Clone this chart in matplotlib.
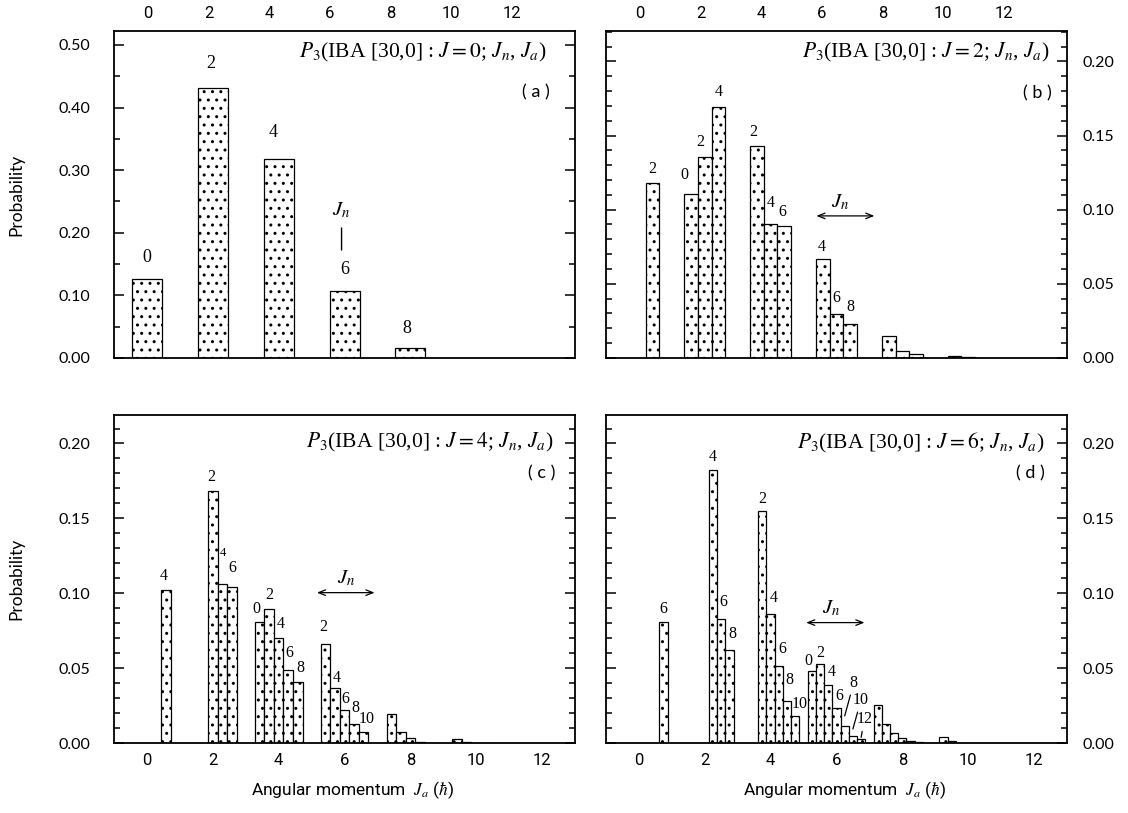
import matplotlib
matplotlib.use("Agg")
import matplotlib.pyplot as plt
from matplotlib.ticker import MultipleLocator, FormatStrFormatter
from matplotlib.transforms import offset_copy

plt.rcParams["mathtext.fontset"] = "stix"
plt.rcParams["hatch.linewidth"] = 1.0

SERIF = ["Liberation Serif", "DejaVu Serif"]
SANS = ["Lato", "DejaVu Sans"]
NARROW = ["Liberation Sans Narrow", "DejaVu Sans Condensed", "Roboto", "DejaVu Sans"]

# ---- data: P3(IBA [30,0] : J; Jn, Ja) ----
# J = 0
ja_a = [0, 2, 4, 6, 8]
jn_a = [0, 2, 4, 6, 8]
p_a = [0.126, 0.431, 0.318, 0.107, 0.016]

# J = 2
ja_b = [0, 2, 2, 2, 4, 4, 4, 6, 6, 6, 8, 8, 8, 10, 10, 10]
jn_b = [2, 0, 2, 4, 2, 4, 6, 4, 6, 8, 6, 8, 10, 8, 10, 12]
p_b = [0.118, 0.1106, 0.1355, 0.169, 0.143, 0.0906, 0.0888, 0.0667, 0.0299,
       0.0229, 0.0146, 0.0049, 0.0029, 0.0016, 0.0005, 0.0001]

# J = 4
ja_c = [0, 2, 2, 2, 4, 4, 4, 4, 4, 6, 6, 6, 6, 6, 8, 8, 8, 8, 8, 10, 10, 10, 10]
jn_c = [4, 2, 4, 6, 0, 2, 4, 6, 8, 2, 4, 6, 8, 10, 4, 6, 8, 10, 12, 6, 8, 10, 12]
p_c = [0.102, 0.168, 0.1064, 0.104, 0.0808, 0.0893, 0.0699, 0.0485, 0.0407,
       0.0659, 0.0369, 0.0218, 0.0127, 0.0073, 0.0196, 0.0076, 0.0031, 0.0009,
       0.0003, 0.0025, 0.0006, 0.0002, 0.0001]

# J = 6
ja_d = [0, 2, 2, 2, 4, 4, 4, 4, 4, 6, 6, 6, 6, 6, 6, 6,
        8, 8, 8, 8, 8, 8, 8, 10, 10, 10]
jn_d = [6, 4, 6, 8, 2, 4, 6, 8, 10, 0, 2, 4, 6, 8, 10, 12,
        2, 4, 6, 8, 10, 12, 14, 4, 6, 8]
p_d = [0.081, 0.1824, 0.0826, 0.0619, 0.155, 0.086, 0.0514, 0.028, 0.018,
       0.048, 0.0526, 0.0385, 0.0232, 0.0114, 0.0047, 0.0025,
       0.0252, 0.0129, 0.0069, 0.0036, 0.0013, 0.0004, 0.0001,
       0.004, 0.0013, 0.0003]

x_ticks = [0, 2, 4, 6, 8, 10, 12]

# Jn labels drawn above bars:
# (Ja, Jn, shift in bar widths, height above top in px, font size)
labels_a = [(0, 0, 0.0, 22, 13), (2, 2, -0.07, 25, 13), (4, 4, -0.2, 26, 13),
            (6, 6, 0.0, 21, 13), (8, 8, -0.13, 19, 13)]
labels_b = [(0, 2, 0.0, 14, 11.5), (2, 0, -0.5, 18.5, 11.5), (2, 2, -0.3, 15.5, 11.5),
            (2, 4, 0.05, 15.5, 11.5), (4, 2, -0.28, 14, 11.5), (4, 4, 0.0, 21, 11.5),
            (4, 6, -0.1, 14, 11.5), (6, 4, -0.1, 12.5, 11.5), (6, 6, 0.0, 16, 11.5),
            (6, 8, 0.0, 17.5, 11.5)]
labels_c = [(0, 4, -0.2, 14, 11.5), (2, 2, -0.15, 14, 11.5), (2, 4, 0.07, 31, 9),
            (2, 6, 0.0, 19.5, 11.5), (4, 0, -0.3, 12.5, 11.5), (4, 2, 0.0, 14, 11.5),
            (4, 4, 0.25, 14.5, 11.5), (4, 6, 0.15, 17.5, 11.5), (4, 8, 0.3, 14, 11.5),
            (6, 2, -0.2, 17, 11.5), (6, 4, 0.2, 10, 11.5), (6, 6, 0.05, 11, 11.5),
            (6, 8, 0.1, 16, 11.5), (6, 10, 0.28, 13, 11.5)]
labels_d = [(0, 6, 0.0, 13, 11.5), (2, 4, 0.0, 13, 11.5), (2, 6, 0.3, 17.5, 11.5),
            (2, 8, 0.3, 16, 11.5), (4, 2, 0.0, 12, 11.5), (4, 4, 0.4, 16.5, 11.5),
            (4, 6, 0.45, 17, 11.5), (4, 8, 0.3, 21, 11.5), (4, 10, 0.5, 12, 11.5),
            (6, 0, -0.4, 10, 11.5), (6, 2, 0.0, 11.5, 11.5),
            (6, 4, 0.4, 13, 11.5), (6, 6, 0.3, 12, 11.5)]
# labels with leader lines: (Ja, Jn, text dx px, text dy px, line start px above top)
leaders_d = [(6, 8, 9, 43, 10), (6, 10, 8, 36, 7), (6, 12, 3, 20, 2)]

PX = 0.72  # points per pixel at 100 dpi

fig = plt.figure(figsize=(11.28, 8.13), dpi=100)

panels = [
    dict(key="a", J=0, ja=ja_a, jn=jn_a, p=p_a, w=0.91, labels=labels_a,
         rect=[0.1011, 0.5597, 0.4087, 0.4022], top=0.5224, major=0.1, minor=0.05,
         side="left", row="top", title_xy=(0.939, 0.933), tag_xy=(0.946, 0.813)),
    dict(key="b", J=2, ja=ja_b, jn=jn_b, p=p_b, w=0.41, labels=labels_b,
         rect=[0.5372, 0.5597, 0.4087, 0.4022], top=0.2205, major=0.05, minor=0.01,
         side="right", row="top", title_xy=(0.962, 0.933), tag_xy=(0.967, 0.81),
         arrow=(5.39, 7.15, 0.0958, 6.1, 0.1054)),
    dict(key="c", J=4, ja=ja_c, jn=jn_c, p=p_c, w=0.29, labels=labels_c,
         rect=[0.1011, 0.0861, 0.4087, 0.4034], top=0.219, major=0.05, minor=0.01,
         side="left", row="bottom", title_xy=(0.953, 0.915), tag_xy=(0.957, 0.823),
         arrow=(5.16, 6.91, 0.1004, 6.05, 0.110)),
    dict(key="d", J=6, ja=ja_d, jn=jn_d, p=p_d, w=0.25, labels=labels_d,
         rect=[0.5372, 0.0861, 0.4087, 0.4034], top=0.219, major=0.05, minor=0.01,
         side="right", row="bottom", title_xy=(0.951, 0.915), tag_xy=(0.952, 0.823),
         arrow=(5.08, 6.85, 0.0804, 5.84, 0.0904)),
]


def bar_x(a, n, w):
    # bar with Jn = Ja sits on Ja, the others are stacked beside it
    return a + (n - a) / 2 * w


for pn in panels:
    ax = fig.add_axes(pn["rect"])
    w = pn["w"]
    xs = [bar_x(a, n, w) for a, n in zip(pn["ja"], pn["jn"])]
    ax.bar(xs, pn["p"], width=w, color="white", edgecolor="black",
           hatch="..", linewidth=0.9, zorder=2)

    ax.set_xlim(-1, 13)
    ax.set_ylim(0, pn["top"])
    for s in ax.spines.values():
        s.set_linewidth(1.3)

    ax.yaxis.set_major_locator(MultipleLocator(pn["major"]))
    ax.yaxis.set_minor_locator(MultipleLocator(pn["minor"]))
    ax.yaxis.set_major_formatter(FormatStrFormatter("%.2f"))
    right = pn["side"] == "right"
    ax.tick_params(axis="y", which="both", direction="in", left=True, right=True,
                   labelleft=not right, labelright=right, width=1.1)
    ax.tick_params(axis="y", which="major", length=7, labelsize=11.5,
                   pad=11.5 if right else 17)
    ax.tick_params(axis="y", which="minor", length=4.5)
    for t in ax.get_yticklabels():
        t.set_family(SANS)

    ax.set_xticks(x_ticks)
    if pn["row"] == "bottom":
        ax.tick_params(axis="x", which="both", length=0, labelsize=12, pad=7)
        for t in ax.get_xticklabels():
            t.set_family(NARROW)
        ax.set_xlabel(r"Angular momentum  $J_a$ ($\hbar$)", fontsize=12.5,
                      family=NARROW)
        ax.xaxis.set_label_coords(0.517, -0.112)
    else:
        ax.tick_params(axis="x", which="both", length=0, labelbottom=False)
        top = ax.twiny()
        top.set_xlim(-1.12, 14.09)
        top.set_xticks(x_ticks)
        top.tick_params(axis="x", length=0, labelsize=12, pad=7)
        for t in top.get_xticklabels():
            t.set_family(NARROW)
        for s in top.spines.values():
            s.set_visible(False)

    if not right:
        ax.set_ylabel("Probability", fontsize=12.5, family=SANS)
        ax.yaxis.set_label_coords(-0.195, 0.5)

    title = r"$P_3$(IBA [30,0] : $J = %d$; $J_n$, $J_a$)" % pn["J"]
    ax.text(*pn["title_xy"], title, transform=ax.transAxes, ha="right",
            va="center", fontsize=15.5, family=SERIF)
    ax.text(*pn["tag_xy"], "( %s )" % pn["key"], transform=ax.transAxes,
            ha="right", va="center", fontsize=13, family=SANS)

    def find(a, n):
        for i, (aa, nn) in enumerate(zip(pn["ja"], pn["jn"])):
            if aa == a and nn == n:
                return i

    for a, n, dx, dy, size in pn["labels"]:
        i = find(a, n)
        ax.annotate(str(n), (xs[i] + dx * w, pn["p"][i]), xytext=(0, dy * PX),
                    textcoords="offset points", ha="center", va="center",
                    fontsize=size, family=SERIF)

    if pn["key"] == "a":
        i = find(6, 6)
        x6, y6 = xs[i] - 0.1 * w, pn["p"][i]
        ax.annotate(r"$J_n$", (x6, y6), xytext=(0, 81 * PX),
                    textcoords="offset points", ha="center", va="center",
                    fontsize=15)
        lo = offset_copy(ax.transData, fig=fig, y=41, units="dots")
        hi = offset_copy(ax.transData, fig=fig, y=63, units="dots")
        ax.annotate("", xy=(x6, y6), xycoords=lo, xytext=(x6, y6), textcoords=hi,
                    arrowprops=dict(arrowstyle="-", lw=1.0, shrinkA=0, shrinkB=0))

    if "arrow" in pn:
        x0, x1, ya, xt, yt = pn["arrow"]
        ax.annotate("", xy=(x1, ya), xytext=(x0, ya),
                    arrowprops=dict(arrowstyle="<->,head_length=0.5,head_width=0.2",
                                    lw=0.9, shrinkA=0, shrinkB=0))
        ax.text(xt, yt, r"$J_n$", ha="center", va="center", fontsize=15)

    if pn["key"] == "d":
        for a, n, tx, ty, start in leaders_d:
            i = find(a, n)
            base = offset_copy(ax.transData, fig=fig, y=start, units="dots")
            ax.annotate(str(n), (xs[i], pn["p"][i]), xycoords=base,
                        xytext=(tx * PX, (ty - start) * PX), textcoords="offset points",
                        ha="center", va="center", fontsize=11.5, family=SERIF,
                        arrowprops=dict(arrowstyle="-", lw=0.9, shrinkA=1, shrinkB=0))

fig.savefig("out.png", dpi=100)
